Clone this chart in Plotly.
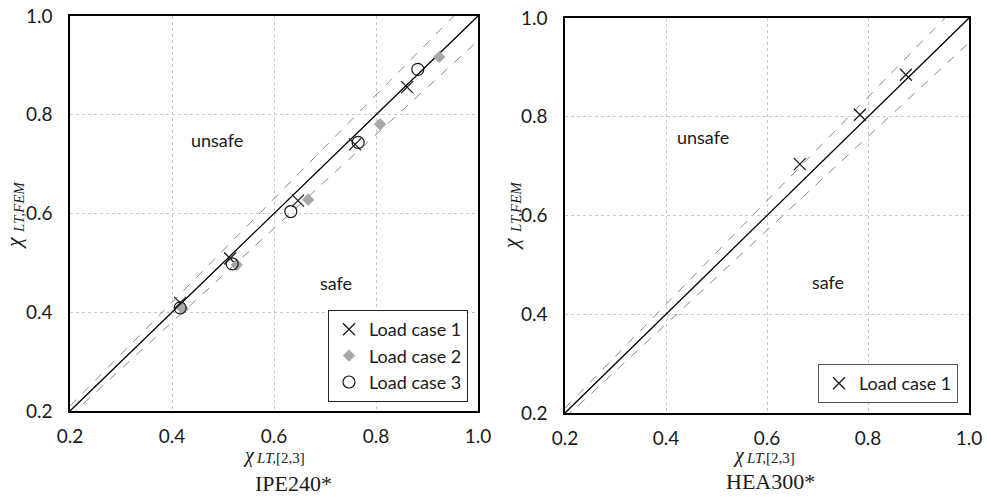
import plotly.graph_objects as go

W, H = 987, 497

# ---- data ----
lc1_left_x = [0.416, 0.514, 0.647, 0.759, 0.861]
lc1_left_y = [0.419, 0.509, 0.626, 0.740, 0.856]
lc2_left_x = [0.421, 0.527, 0.667, 0.808, 0.924]
lc2_left_y = [0.407, 0.496, 0.628, 0.781, 0.917]
lc3_left_x = [0.416, 0.518, 0.633, 0.765, 0.882]
lc3_left_y = [0.409, 0.498, 0.604, 0.744, 0.892]

lc1_right_x = [0.665, 0.784, 0.875]
lc1_right_y = [0.704, 0.804, 0.885]

line_x = [0.2, 1.0]
band_factors = [0.95, 1.05]   # +-5% bands around the 1:1 line
tick_vals = [0.2, 0.4, 0.6, 0.8, 1.0]
tick_text = ["0.2", "0.4", "0.6", "0.8", "1.0"]

SANS = "Lato, 'Noto Sans', sans-serif"
SERIF = "'Liberation Serif', 'DejaVu Serif', serif"
INK = "#1a1a1a"

fig = go.Figure()

def add_lines(xa, ya):
    for f in band_factors:
        fig.add_trace(go.Scatter(x=line_x, y=[v * f for v in line_x], mode="lines",
                                 line=dict(color="#8a8a8a", width=1, dash="dash"),
                                 showlegend=False, hoverinfo="skip", xaxis=xa, yaxis=ya))
    fig.add_trace(go.Scatter(x=line_x, y=line_x, mode="lines",
                             line=dict(color="black", width=1.3),
                             showlegend=False, hoverinfo="skip", xaxis=xa, yaxis=ya))

add_lines("x", "y")
add_lines("x2", "y2")

fig.add_trace(go.Scatter(x=lc1_left_x, y=lc1_left_y, mode="markers", name="Load case 1",
                         marker=dict(symbol="x-thin-open", size=12, color=INK, line=dict(width=1.3)),
                         xaxis="x", yaxis="y", legend="legend"))
fig.add_trace(go.Scatter(x=lc2_left_x, y=lc2_left_y, mode="markers", name="Load case 2",
                         marker=dict(symbol="diamond", size=9, color="#a8a8a8",
                                     line=dict(color="#999", width=0.5)),
                         xaxis="x", yaxis="y", legend="legend"))
fig.add_trace(go.Scatter(x=lc3_left_x, y=lc3_left_y, mode="markers", name="Load case 3",
                         marker=dict(symbol="circle-open", size=12, color=INK, line=dict(width=1.2)),
                         xaxis="x", yaxis="y", legend="legend"))
fig.add_trace(go.Scatter(x=lc1_right_x, y=lc1_right_y, mode="markers", name="Load case 1",
                         marker=dict(symbol="x-thin-open", size=12, color=INK, line=dict(width=1.3)),
                         xaxis="x2", yaxis="y2", legend="legend2"))

def px_x(p):
    return p / W

def px_y(p):
    return 1 - p / H

axis_common = dict(range=[0.2, 1.0], tickvals=tick_vals, ticktext=tick_text,
                   showgrid=True, gridcolor="#c8c8c8", griddash="dot", gridwidth=1,
                   showline=True, linecolor="black", linewidth=1.5, mirror=True,
                   ticks="", zeroline=False, fixedrange=True, automargin=False,
                   tickfont=dict(family=SANS, size=19, color=INK))

ydom = [px_y(411), px_y(16)]
ydom2 = [px_y(413), px_y(18)]
fig.update_layout(
    width=W, height=H,
    margin=dict(l=0, r=0, t=0, b=0, autoexpand=False),
    paper_bgcolor="white", plot_bgcolor="white",
    xaxis=dict(domain=[px_x(70), px_x(478)], anchor="y", ticklabelstandoff=7, **axis_common),
    yaxis=dict(domain=ydom, anchor="x", ticklabelstandoff=12, **axis_common),
    xaxis2=dict(domain=[px_x(565), px_x(969)], anchor="y2", ticklabelstandoff=7, **axis_common),
    yaxis2=dict(domain=ydom2, anchor="x2", ticklabelstandoff=12, **axis_common),
    legend=dict(x=px_x(468), xanchor="right", y=px_y(402), yanchor="bottom",
                bgcolor="white", bordercolor="#222", borderwidth=1,
                font=dict(family=SANS, size=18, color=INK), tracegroupgap=0,
                itemwidth=30),
    legend2=dict(x=px_x(958), xanchor="right", y=px_y(403), yanchor="bottom",
                 bgcolor="white", bordercolor="#555", borderwidth=1,
                 font=dict(family=SANS, size=18, color=INK), itemwidth=30),
    showlegend=True,
)

ann = []
def text_ann(x, y, t, size, family, angle=0, xanchor="center", yanchor="middle"):
    ann.append(dict(x=px_x(x), y=px_y(y), xref="paper", yref="paper", text=t,
                    showarrow=False, textangle=angle, xanchor=xanchor, yanchor=yanchor,
                    font=dict(family=family, size=size, color=INK)))

# x-axis titles: chi + subscript as separate texts
text_ann(257, 455, "<i>χ</i>", 20, SERIF, xanchor="right")
text_ann(254, 458, "<i>LT,</i>[2,3]", 15, SERIF, xanchor="left")
text_ann(747, 455, "<i>χ</i>", 20, SERIF, xanchor="right")
text_ann(744, 458, "<i>LT,</i>[2,3]", 15, SERIF, xanchor="left")
# y-axis titles (rotated)
text_ann(13, 243, "<i>χ</i>", 22, SERIF, -90)
text_ann(19, 207, "<i>LT,FEM</i>", 15, SERIF, -90)
text_ann(510, 244, "<i>χ</i>", 22, SERIF, -90)
text_ann(516, 207, "<i>LT,FEM</i>", 15, SERIF, -90)
# panel captions
text_ann(293, 483, "IPE240*", 22, SERIF)
text_ann(770, 481, "HEA300*", 22, SERIF)

# region labels in data coords
for xa, ya, x, y, t in [("x", "y", 0.488, 0.748, "unsafe"), ("x", "y", 0.722, 0.46, "safe"),
                        ("x2", "y2", 0.473, 0.759, "unsafe"), ("x2", "y2", 0.72, 0.465, "safe")]:
    ann.append(dict(x=x, y=y, xref=xa, yref=ya, text=t, showarrow=False,
                    font=dict(family=SANS, size=18, color=INK)))

fig.update_layout(annotations=ann)
fig.write_html("out.html")
